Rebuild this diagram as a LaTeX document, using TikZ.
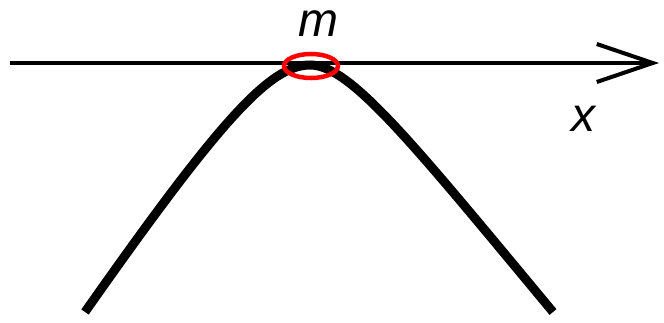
\documentclass[tikz,border=0pt]{standalone}
\usepackage{fontspec}
\setmainfont{Liberation Sans}
\usetikzlibrary{arrows.meta,positioning,shapes.geometric}

\begin{document}
\begin{tikzpicture}[x=1pt,y=-1pt]
    \useasboundingbox (0,0) rectangle (664,323);
    \tikzset{
        axis/.style={line width=4pt, -{Straight Barb[length=56pt,width=38pt,line width=4pt]}},
        curve/.style={line width=9pt},
        tag/.style={font=\fontsize{48}{48}\selectfont\itshape, inner sep=0pt, anchor=base},
    }

    \coordinate (axis west) at (10,63);
    \coordinate (axis east) at (659,63);
    \draw[axis] (axis west) -- (axis east);

    % the hump
    \draw[curve] (85,312) .. controls (220,120) and (270,65) .. (310,65)
        .. controls (350,65) and (410,140) .. (553,312);

    \node[draw=red, line width=4.5pt, ellipse, minimum width=54pt, minimum height=24pt, inner sep=0pt] (max) at (311,66) {};
    \node[tag] (m) at (318,37) {m};
    \node[tag] (x) at (583,132) {x};
\end{tikzpicture}
\end{document}
